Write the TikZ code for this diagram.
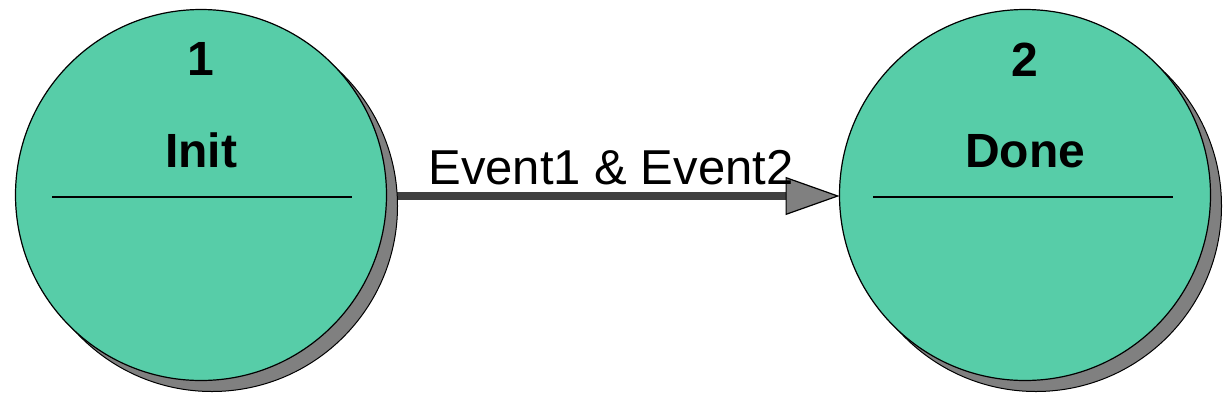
\documentclass[tikz,border=0pt]{standalone}
\usepackage{fontspec}
\setmainfont{Liberation Sans}
\usetikzlibrary{arrows.meta,shadows}
\definecolor{statefill}{RGB}{87,205,168}
\definecolor{shadowgray}{RGB}{128,128,128}
\definecolor{linegray}{RGB}{64,64,64}
\pgfdeclarelayer{bg}
\pgfsetlayers{bg,main}
\tikzset{
  statebox/.style={circle, minimum size=371pt, inner sep=0pt, outer sep=0pt,
    draw=black, line width=1.2pt, fill=statefill,
    copy shadow={shadow xshift=11pt, shadow yshift=-11pt, fill=shadowgray, draw=black, line width=1pt}},
  numtext/.style={anchor=base, inner sep=0pt, font=\fontsize{48}{58}\selectfont\bfseries},
  nametext/.style={anchor=base, inner sep=0pt, font=\fontsize{48}{58}\selectfont\bfseries},
  divider/.style={draw=black, line width=1.2pt},
  transition/.style={draw=linegray, line width=7.5pt,
    -{Triangle[length=54pt, width=38pt, line width=1.2pt, color=black, fill=shadowgray]}},
  edgelabel/.style={inner sep=0pt, text depth=0pt, font=\fontsize{49}{59}\selectfont}
}
\begin{document}
\begin{tikzpicture}[x=1pt, y=-1pt]
\useasboundingbox (0,0) rectangle (1230,400);
\node[statebox] (s1) at (201,195) {};
\node[statebox] (s2) at (1025,195) {};
\draw[divider] ([xshift=-149pt,yshift=-2pt]s1.center) -- ([xshift=151pt,yshift=-2pt]s1.center);
\draw[divider] ([xshift=-152pt,yshift=-2pt]s2.center) -- ([xshift=148pt,yshift=-2pt]s2.center);
\node[numtext] (n1) at ([yshift=120pt]s1.center) {1};
\node[nametext] (t1) at ([yshift=28pt]s1.center) {Init};
\node[numtext] (n2) at ([yshift=119pt]s2.center) {2};
\node[nametext] (t2) at ([yshift=28pt]s2.center) {Done};
\begin{pgfonlayer}{bg}
\draw[transition] ([yshift=-1pt]s1.east) -- ([yshift=-1pt]s2.west)
  node[edgelabel, midway, above=8pt, xshift=-2pt] (lbl) {Event1 \& Event2};
\end{pgfonlayer}
\end{tikzpicture}
\end{document}
